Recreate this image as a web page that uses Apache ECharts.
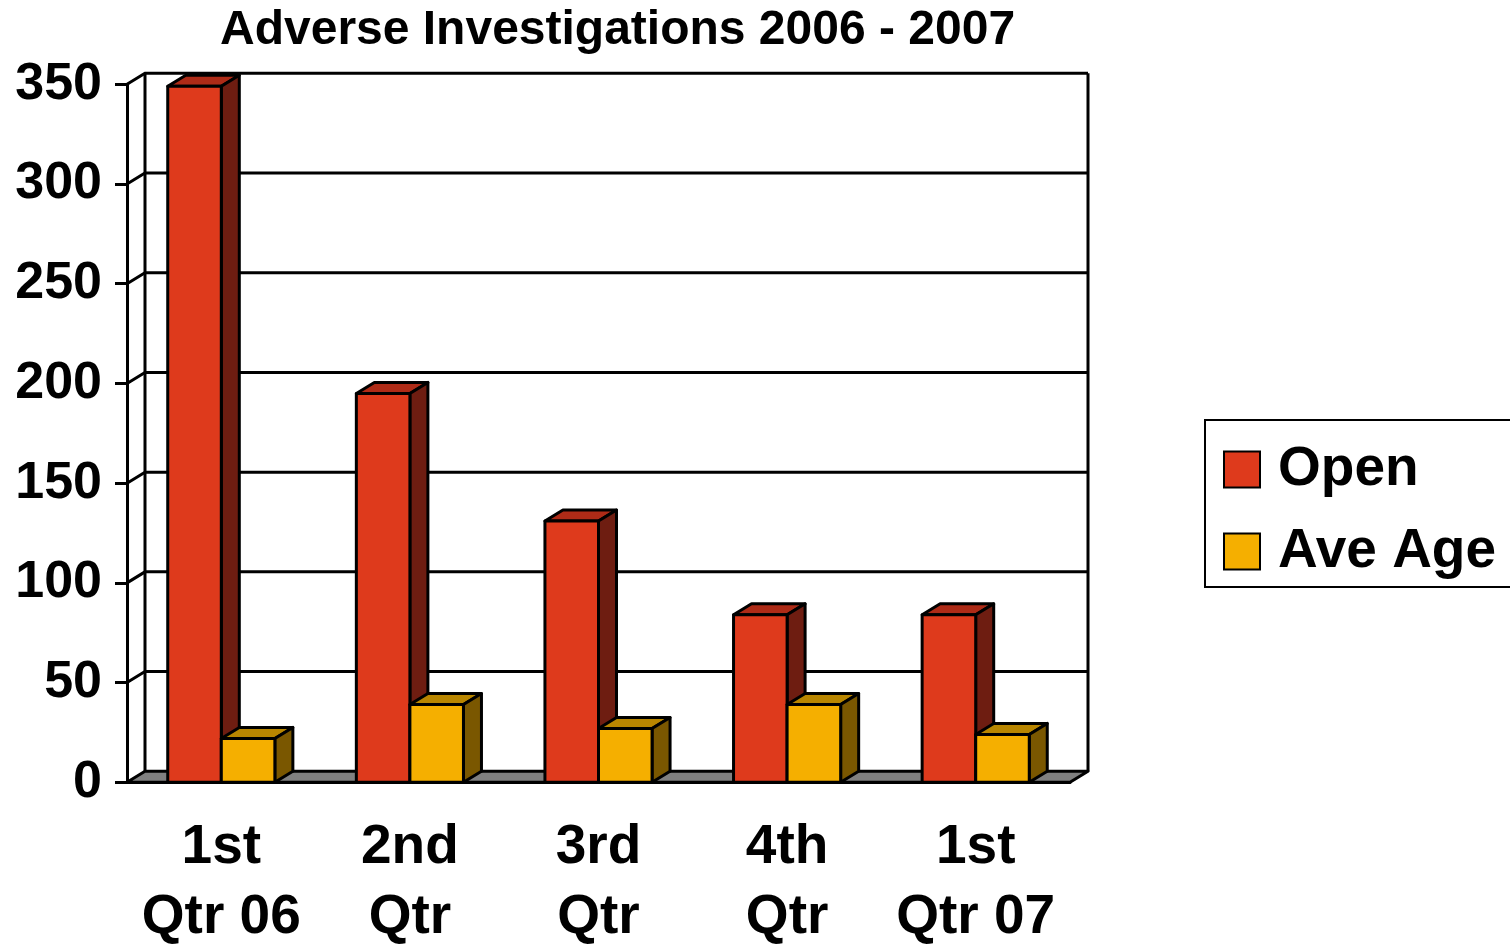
<!DOCTYPE html>
<html>
<head>
<meta charset="utf-8">
<script src="https://cdn.jsdelivr.net/npm/echarts@6/dist/echarts.min.js"></script>
<style>
html,body{margin:0;padding:0;background:#fff;overflow:hidden;}
#chart{width:1510px;height:944px;}
</style>
</head>
<body>
<div id="chart"></div>
<script>
const categories = ['1st\nQtr 06', '2nd\nQtr', '3rd\nQtr', '4th\nQtr', '1st\nQtr 07'];
const openValues = [349, 195, 131, 84, 84];
const aveAgeValues = [22, 39, 27, 39, 24];
const yTickValues = [0, 50, 100, 150, 200, 250, 300, 350];
const seriesNames = ['Open', 'Ave Age'];

const DX = 18, DY = -11;
const FONT = '"Liberation Sans", Arial, sans-serif';
const palette = {
  Open: { front: '#DE3A1C', top: '#AE2B17', side: '#6E1D11' },
  'Ave Age': { front: '#F5AF00', top: '#B98600', side: '#7A5700' }
};

function barRenderer(idx, colors) {
  return function (params, api) {
    const cat = api.value(0), val = api.value(1);
    const base = api.coord([cat, 0]);
    const topP = api.coord([cat, val]);
    const catW = api.size([1, 0])[0];
    const bw = catW * 0.284;
    const x0 = idx === 0 ? base[0] - bw : base[0];
    const x1 = x0 + bw;
    const yb = base[1], yt = topP[1];
    const st = { stroke: '#000', lineWidth: 3, lineJoin: 'round' };
    return {
      type: 'group',
      children: [
        { type: 'polygon', shape: { points: [[x0, yt], [x1, yt], [x1 + DX, yt + DY], [x0 + DX, yt + DY]] },
          style: Object.assign({ fill: colors.top }, st) },
        { type: 'polygon', shape: { points: [[x1, yt], [x1 + DX, yt + DY], [x1 + DX, yb + DY], [x1, yb]] },
          style: Object.assign({ fill: colors.side }, st) },
        { type: 'rect', shape: { x: x0, y: yt, width: bw, height: yb - yt },
          style: Object.assign({ fill: colors.front }, st) }
      ]
    };
  };
}

function wallRenderer(params, api) {
  const cs = params.coordSys;
  const v = api.value(1);
  const y = api.coord([0, v])[1];
  const xl = cs.x, xr = cs.x + cs.width;
  const children = [];
  const yTop = api.coord([0, yTickValues[yTickValues.length - 1]])[1];
  if (v === 0) {
    children.push({ type: 'polygon',
      shape: { points: [[xl, y], [xr, y], [xr + DX, y + DY], [xl + DX, y + DY]] },
      style: { fill: '#808080', stroke: '#000', lineWidth: 3, lineJoin: 'round' } });
    children.push({ type: 'line', shape: { x1: xl + DX, y1: y + DY, x2: xl + DX, y2: yTop + DY },
      style: { stroke: '#000', lineWidth: 3 } });
    children.push({ type: 'line', shape: { x1: xr + DX, y1: y + DY, x2: xr + DX, y2: yTop + DY },
      style: { stroke: '#000', lineWidth: 3 } });
  } else {
    children.push({ type: 'polyline',
      shape: { points: [[xl, y], [xl + DX, y + DY], [xr + DX, y + DY]] },
      style: { fill: null, stroke: '#000', lineWidth: 3 } });
  }
  return { type: 'group', children: children };
}

const chart = echarts.init(document.getElementById('chart'), null, { renderer: 'canvas', width: 1510, height: 944 });
chart.setOption({
  animation: false,
  backgroundColor: '#fff',
  title: {
    text: 'Adverse Investigations 2006 - 2007',
    left: 220, top: 7, padding: 0,
    textStyle: { fontFamily: FONT, fontSize: 48, fontWeight: 'bold', color: '#000' }
  },
  legend: {
    orient: 'vertical',
    left: 1205, top: 420,
    padding: [22, 40, 8, 18],
    itemGap: 27,
    itemWidth: 36, itemHeight: 36,
    icon: 'rect',
    selectedMode: false,
    borderColor: '#000', borderWidth: 2,
    itemStyle: { borderColor: '#000', borderWidth: 2 },
    textStyle: { fontFamily: FONT, fontSize: 55, fontWeight: 'bold', color: '#000', padding: [0, 0, 0, 13] },
    data: seriesNames.map(n => ({ name: n, itemStyle: { color: palette[n].front, borderColor: '#000', borderWidth: 2 } }))
  },
  grid: { left: 127, top: 84.3, width: 943, height: 698, containLabel: false, outerBoundsMode: 'none' },
  xAxis: {
    type: 'category',
    data: categories,
    boundaryGap: true,
    axisLine: { lineStyle: { color: '#000', width: 3 } },
    axisTick: { length: 11, lineStyle: { color: '#000', width: 3 } },
    axisLabel: { margin: 31, color: '#000', fontFamily: FONT, fontSize: 55, fontWeight: 'bold', lineHeight: 70, interval: 0 },
    splitLine: { show: false }
  },
  yAxis: {
    type: 'value',
    min: 0, max: 350, interval: 50,
    axisLine: { show: true, lineStyle: { color: '#000', width: 3 } },
    axisTick: { show: true, length: 12, lineStyle: { color: '#000', width: 3 } },
    axisLabel: { margin: 25, color: '#000', fontFamily: FONT, fontSize: 52, fontWeight: 'bold', padding: [0, 0, 6, 0] },
    splitLine: { show: false }
  },
  series: [
    {
      type: 'custom', name: '__walls', z: 1, clip: false, silent: true,
      renderItem: wallRenderer,
      data: yTickValues.map(v => [0, v])
    },
    {
      type: 'custom', name: 'Open', z: 2, clip: false,
      itemStyle: { color: palette.Open.front },
      renderItem: barRenderer(0, palette.Open),
      data: openValues.map((v, i) => [i, v])
    },
    {
      type: 'custom', name: 'Ave Age', z: 3, clip: false,
      itemStyle: { color: palette['Ave Age'].front },
      renderItem: barRenderer(1, palette['Ave Age']),
      data: aveAgeValues.map((v, i) => [i, v])
    }
  ]
});
</script>
</body>
</html>
